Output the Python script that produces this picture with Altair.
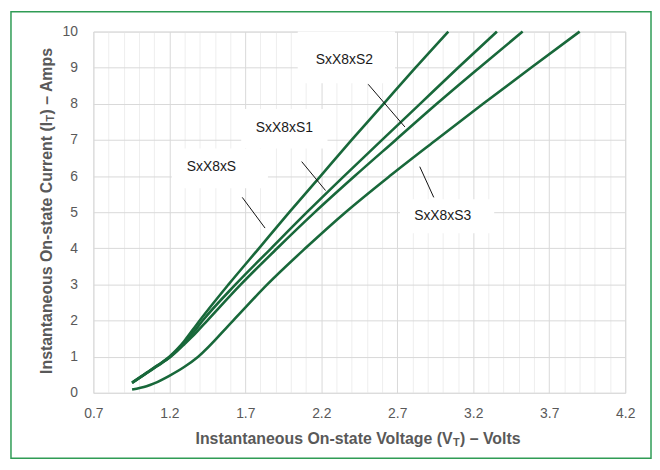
import altair as alt
import pandas as pd

FONT = "Liberation Sans"

# ---- data (V_T in volts, I_T in amps) ----
series_names = ["SxX8xS", "SxX8xS1", "SxX8xS2", "SxX8xS3"]
v_sxx8xs = [0.955, 1.05, 1.10, 1.15, 1.20, 1.25, 1.30, 1.35, 1.40, 1.59, 1.79, 1.99, 2.195, 2.40, 2.61, 2.82, 3.036]
i_sxx8xs = [0.28, 0.55, 0.70, 0.84, 1.00, 1.20, 1.44, 1.72, 2, 3, 4, 5, 6, 7, 8, 9, 10]
v_sxx8xs1 = [0.955, 1.05, 1.10, 1.15, 1.20, 1.25, 1.30, 1.36, 1.42, 1.636, 1.87, 2.106, 2.35, 2.60, 2.85, 3.10, 3.356]
i_sxx8xs1 = [0.28, 0.55, 0.69, 0.83, 0.98, 1.17, 1.39, 1.68, 2, 3, 4, 5, 6, 7, 8, 9, 10]
v_sxx8xs2 = [0.955, 1.05, 1.10, 1.15, 1.20, 1.25, 1.30, 1.375, 1.45, 1.671, 1.91, 2.158, 2.42, 2.69, 2.96, 3.24, 3.525]
i_sxx8xs2 = [0.27, 0.54, 0.68, 0.82, 0.97, 1.15, 1.35, 1.66, 2, 3, 4, 5, 6, 7, 8, 9, 10]
v_sxx8xs3 = [0.955, 1.05, 1.10, 1.20, 1.30, 1.39, 1.62, 1.845, 2.095, 2.36, 2.65, 2.955, 3.265, 3.58, 3.90]
i_sxx8xs3 = [0.09, 0.18, 0.26, 0.47, 0.72, 1, 2, 3, 4, 5, 6, 7, 8, 9, 10]

x_ticks = [round(0.7 + 0.1 * k, 1) for k in range(36)]   # 0.7 .. 4.2, labelled every 0.5
y_ticks = list(range(0, 11))

# annotation layout (data coordinates)
label_text = ["SxX8xS", "SxX8xS1", "SxX8xS2", "SxX8xS3"]
label_x = [1.477, 1.957, 2.352, 2.999]
label_y = [6.26, 7.34, 9.20, 4.89]
box_x1 = [1.216, 1.673, 2.045, 2.718]
box_x2 = [1.849, 2.241, 2.685, 3.338]
box_y1 = [5.66, 6.76, 8.57, 4.42]
box_y2 = [6.76, 7.86, 10.0, 5.36]
lead_x1 = [1.68, 2.071, 2.509, 2.848]
lead_y1 = [5.41, 6.40, 8.54, 6.26]
lead_x2 = [1.83, 2.228, 2.750, 2.940]
lead_y2 = [4.56, 5.60, 7.36, 5.41]

rows = []
for name, vs, iss in zip(series_names,
                         [v_sxx8xs, v_sxx8xs1, v_sxx8xs2, v_sxx8xs3],
                         [i_sxx8xs, i_sxx8xs1, i_sxx8xs2, i_sxx8xs3]):
    for k, (v, i) in enumerate(zip(vs, iss)):
        rows.append({"series": name, "V": v, "I": i, "order": k})
df = pd.DataFrame(rows)

ann = pd.DataFrame({"label": label_text, "lx": label_x, "ly": label_y,
                    "bx1": box_x1, "bx2": box_x2, "by1": box_y1, "by2": box_y2,
                    "ax1": lead_x1, "ay1": lead_y1, "ax2": lead_x2, "ay2": lead_y2})

major_test = "abs((datum.value - 0.7) / 0.5 - round((datum.value - 0.7) / 0.5)) < 0.001"

xscale = alt.Scale(domain=[0.7, 4.2], nice=False, zero=False)
yscale = alt.Scale(domain=[0, 10], nice=False, zero=True)

x_axis = alt.Axis(values=x_ticks, title=None, ticks=False, domain=False,
                  labelExpr=f"{major_test} ? format(datum.value, '.1f') : ''",
                  labelOverlap=False, labelFlush=False, labelPadding=14,
                  labelFont=FONT, labelFontSize=14, labelColor="#595959",
                  gridColor={"condition": {"test": major_test, "value": "#d9d9d9"}, "value": "#eeeeee"},
                  gridWidth=1)
y_axis = alt.Axis(values=y_ticks, title=None, ticks=False, domain=False,
                  labelPadding=16, labelFont=FONT, labelFontSize=14, labelColor="#595959",
                  labelOverlap=False, gridColor="#d9d9d9", gridWidth=1)


def X(field):
    return alt.X(field, type="quantitative", scale=xscale, axis=x_axis)


def Y(field):
    return alt.Y(field, type="quantitative", scale=yscale, axis=y_axis)


boxes = alt.Chart(ann).mark_rect(fill="white", strokeWidth=0).encode(
    x=X("bx1"), x2="bx2", y=Y("by1"), y2="by2")

lines = alt.Chart(df).mark_line(interpolate="monotone", strokeWidth=2.6, color="#18683a").encode(
    x=X("V"), y=Y("I"), detail="series:N", order="order:Q")

leaders = alt.Chart(ann).mark_rule(color="#111111", strokeWidth=1).encode(
    x=X("ax1"), y=Y("ay1"), x2="ax2", y2="ay2")

labels = alt.Chart(ann).mark_text(font=FONT, fontSize=14, color="#1a1a1a",
                                  align="center", baseline="middle").encode(
    x=X("lx"), y=Y("ly"), text="label:N")


def txt(s, x, y, size=16, align="left", angle=0):
    return alt.Chart(pd.DataFrame({"t": [s]})).mark_text(
        font=FONT, fontSize=size, fontWeight="bold", color="#595959",
        align=align, baseline="middle", angle=angle).encode(
        x=alt.value(x), y=alt.value(y), text="t:N")


xt1 = txt("Instantaneous On-state Voltage (V", 362, 411, align="right")
xt2 = txt("T", 362.5, 415, size=11)
xt3 = txt(") – Volts", 369.5, 411)

yt1 = txt("Instantaneous On-state Current (I", -47, 91, align="right", angle=270)
yt2 = txt("T", -43, 90.5, size=11, angle=270)
yt3 = txt(") – Amps", -47, 83.5, angle=270)

border = alt.Chart(pd.DataFrame({"a": [0]})).mark_rect(
    fillOpacity=0, stroke="#2f9c55", strokeWidth=1.5).encode(
    x=alt.value(-83), x2=alt.value(562), y=alt.value(-20), y2=alt.value(430))

chart = alt.layer(boxes, lines, leaders, labels, xt1, xt2, xt3, yt1, yt2, yt3, border).properties(
    width=536, height=364,
    autosize=alt.AutoSizeParams(type="none"),
    padding={"left": 86, "top": 22, "right": 27, "bottom": 68},
).configure_view(stroke="#a6a6a6", strokeWidth=1.2).configure(background="white")

chart.save("out.html", embed_options={"renderer": "svg", "actions": False})
